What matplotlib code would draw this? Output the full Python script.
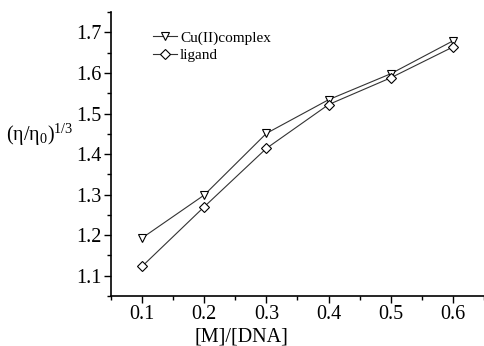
import matplotlib
matplotlib.use('Agg')
import matplotlib.pyplot as plt
from matplotlib.ticker import MultipleLocator

plt.rcParams['font.family'] = ['Liberation Serif', 'DejaVu Serif']
plt.rcParams['mathtext.fontset'] = 'custom'
plt.rcParams['mathtext.rm'] = 'Liberation Serif'
plt.rcParams['mathtext.it'] = 'Liberation Serif'

# [M]/[DNA] ratios
ratio = [0.1, 0.2, 0.3, 0.4, 0.5, 0.6]
# relative viscosity (eta/eta0)^(1/3)
complex_vals = [1.193, 1.299, 1.451, 1.534, 1.598, 1.679]
ligand_vals = [1.123, 1.270, 1.414, 1.522, 1.588, 1.664]

fig = plt.figure(figsize=(4.84, 3.46), dpi=100)
ax = fig.add_axes([0.2293, 0.1445, 0.7707, 0.8205])

ax.plot(ratio, complex_vals, color='#333333', lw=0.8, marker='v', ms=6,
        mfc='white', mec='black', mew=0.8, label='Cu(II)complex')
ax.plot(ratio, ligand_vals, color='#333333', lw=0.8, marker='D', ms=5,
        mfc='white', mec='black', mew=0.8, label='ligand')

ax.set_xlim(0.05, 0.65)
ax.set_ylim(1.05, 1.75)
ax.xaxis.set_major_locator(MultipleLocator(0.1))
ax.xaxis.set_minor_locator(MultipleLocator(0.05))
ax.yaxis.set_major_locator(MultipleLocator(0.1))
ax.yaxis.set_minor_locator(MultipleLocator(0.05))
ax.tick_params(which='major', direction='out', length=5, width=1, labelsize=14.5)
ax.tick_params(which='minor', direction='out', length=3, width=1)
ax.tick_params(axis='y', pad=2)
ax.tick_params(axis='x', pad=1.5)

for s in ['top', 'right']:
    ax.spines[s].set_visible(False)
ax.spines['left'].set_linewidth(1.2)
ax.spines['bottom'].set_linewidth(1.2)

ax.set_xlabel('[M]/[DNA]', fontsize=14.5)
ax.xaxis.set_label_coords(0.349, -0.112)
ax.set_ylabel(r'$\mathregular{(\eta/\eta_0)^{1/3}}$', fontsize=14.5, rotation=0)
ax.yaxis.set_label_coords(-0.19, 0.52)

ax.legend(loc='upper left', bbox_to_anchor=(0.095, 0.955), frameon=False,
          fontsize=11, handlelength=1.6, handletextpad=0.2,
          labelspacing=0.25, borderaxespad=0)

fig.savefig('out.png', dpi=100)
